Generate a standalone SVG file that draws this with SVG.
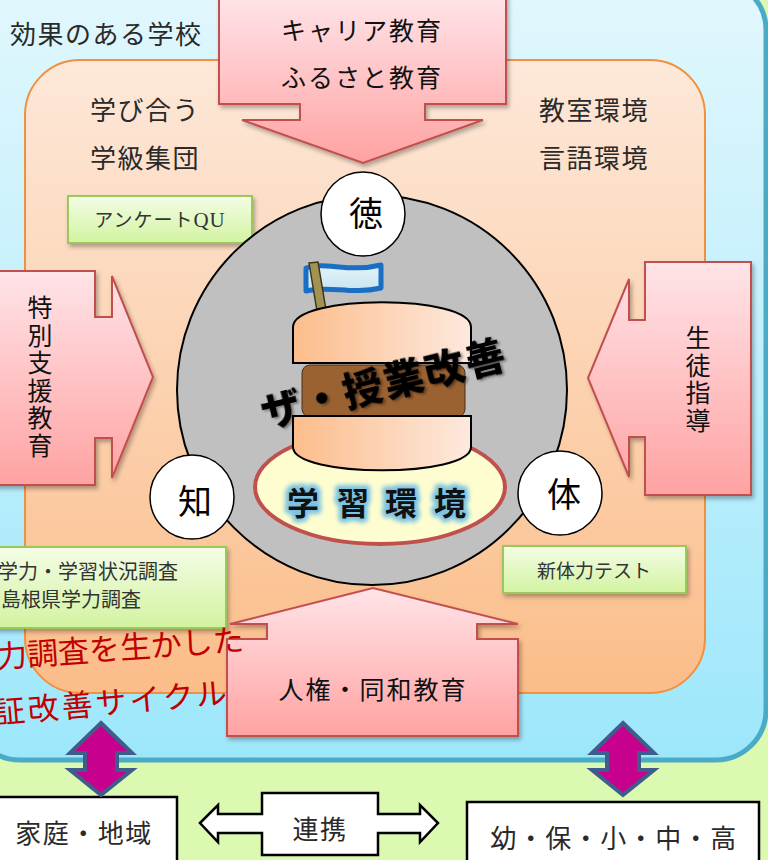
<svg xmlns="http://www.w3.org/2000/svg" width="768" height="860" viewBox="0 0 768 860">
  <defs>
    <linearGradient id="gBlue" x1="0" y1="0" x2="0" y2="1">
      <stop offset="0" stop-color="#e2f7fd"/>
      <stop offset="1" stop-color="#9de7fb"/>
    </linearGradient>
    <linearGradient id="gOrange" x1="0" y1="0" x2="0" y2="1">
      <stop offset="0" stop-color="#fde8d9"/>
      <stop offset="1" stop-color="#fbbd89"/>
    </linearGradient>
    <linearGradient id="gPink" x1="0" y1="0" x2="0" y2="1">
      <stop offset="0" stop-color="#ffe4e8"/>
      <stop offset="1" stop-color="#ffa2a2"/>
    </linearGradient>
    <linearGradient id="gGreen" x1="0" y1="0" x2="0" y2="1">
      <stop offset="0" stop-color="#f4fde6"/>
      <stop offset="1" stop-color="#d2f3a0"/>
    </linearGradient>
    <linearGradient id="gBun" x1="0" y1="0" x2="1" y2="0">
      <stop offset="0" stop-color="#fcbd8b"/>
      <stop offset="1" stop-color="#fde9de"/>
    </linearGradient>
    <linearGradient id="gFlag" x1="0" y1="0" x2="0" y2="1">
      <stop offset="0" stop-color="#e4f3f8"/>
      <stop offset="1" stop-color="#c8e4f0"/>
    </linearGradient>
    <filter id="shadow" x="-10%" y="-10%" width="125%" height="130%">
      <feDropShadow dx="2" dy="3" stdDeviation="2" flood-color="#000" flood-opacity="0.3"/>
    </filter>
    <filter id="txtShadow" x="-10%" y="-20%" width="125%" height="150%">
      <feDropShadow dx="2" dy="2" stdDeviation="1.2" flood-color="#000" flood-opacity="0.35"/>
    </filter>
    <filter id="glow" x="-20%" y="-30%" width="140%" height="160%">
      <feGaussianBlur stdDeviation="2"/>
    </filter>
    <style>
      .t { font-family: "Noto Sans CJK JP", "Noto Sans", sans-serif; }
      .lbl { font-size: 26px; fill: #2a2a2a; letter-spacing: 1.5px; }
      .big { font-size: 25px; fill: #111; letter-spacing: 2px; }
      .vert { font-size: 25px; fill: #111; writing-mode: vertical-rl; text-orientation: upright; letter-spacing: 2.5px; }
      .box { font-size: 19px; fill: #333; }
      .arrow { fill: url(#gPink); stroke: #c0504d; stroke-width: 2; stroke-linejoin: miter; filter: url(#shadow); }
      .gbox { fill: url(#gGreen); stroke: #9bc85a; stroke-width: 2; filter: url(#shadow); }
      .ring { fill: #fff; stroke: #000; stroke-width: 1.5; }
      .ringtxt { font-size: 34px; fill: #000; text-anchor: middle; }
      .dbl { fill: #c8008e; stroke: #3e5d8c; stroke-width: 4; stroke-linejoin: miter; }
      .wbox { fill: #fff; stroke: #000; stroke-width: 2.5; }
      .red { font-size: 31px; fill: #c00000; }
    </style>
  </defs>

  <!-- page background -->
  <rect x="0" y="0" width="768" height="860" fill="#dbf9b0"/>

  <!-- school frame -->
  <g id="school">
    <rect x="-30" y="-20" width="796" height="780" rx="50" fill="url(#gBlue)" stroke="#4aabc6" stroke-width="5"/>
    <text class="t lbl" x="10" y="44">効果のある学校</text>
  </g>

  <!-- classroom frame -->
  <g id="classroom">
    <rect x="25" y="60" width="680" height="633" rx="55" fill="url(#gOrange)" stroke="#f09040" stroke-width="2"/>
    <text class="t lbl" x="90" y="120">学び合う</text>
    <text class="t lbl" x="90" y="168">学級集団</text>
    <text class="t lbl" x="539" y="120">教室環境</text>
    <text class="t lbl" x="539" y="168">言語環境</text>
  </g>

  <!-- survey boxes -->
  <g id="box-qu">
    <rect class="gbox" x="68" y="196" width="184" height="47"/>
    <text class="t box" x="160" y="227" text-anchor="middle" letter-spacing="1">アンケート<tspan font-family="'Liberation Serif', serif" font-size="21">QU</tspan></text>
  </g>
  <g id="box-survey">
    <rect class="gbox" x="-5" y="547" width="231" height="81"/>
    <text class="t box" x="-2" y="579" style="font-size:20px">学力・学習状況調査</text>
    <text class="t box" x="1" y="607" style="font-size:20px">島根県学力調査</text>
  </g>
  <g id="box-fitness">
    <rect class="gbox" x="503" y="546" width="183" height="47"/>
    <text class="t box" x="594" y="578" text-anchor="middle">新体力テスト</text>
  </g>

  <!-- core: lesson improvement burger -->
  <g id="core">
    <circle cx="372" cy="390" r="195" fill="#c0c0c0" stroke="#000" stroke-width="2"/>
    <ellipse cx="380" cy="487" rx="125" ry="57" fill="#fefdd0" stroke="#c0504d" stroke-width="4"/>
    <g class="t" font-size="32" font-weight="700" text-anchor="middle">
      <text x="303 353 401 450" y="515" fill="none" stroke="#7cc3e2" stroke-width="8" stroke-linejoin="round" filter="url(#glow)">学習環境</text>
      <text x="303 353 401 450" y="515" fill="#111">学習環境</text>
    </g>
    <!-- flag -->
    <path d="M306,268 C325,261 348,273 381,265 L381,288 C350,295 330,285 306,291 Z" fill="url(#gFlag)" stroke="#1a6fc4" stroke-width="5" stroke-linejoin="round"/>
    <path d="M309,263 L318,262 L326,310 L317,311 Z" fill="#a39352" stroke="#3c3520" stroke-width="1.5"/>
    <!-- bun, patty, bun -->
    <path d="M293,363 V327 C293,294 471,294 471,327 V363 Z" fill="url(#gBun)" stroke="#000" stroke-width="2"/>
    <rect x="302" y="365" width="163" height="52" rx="8" fill="#9a6131" stroke="#4a3018" stroke-width="1"/>
    <path d="M293,416 H471 V447 C471,478 293,478 293,447 Z" fill="url(#gBun)" stroke="#000" stroke-width="2"/>
    <text class="t" x="384" y="398" font-size="40" font-weight="900" fill="#000" text-anchor="middle" letter-spacing="2" transform="rotate(-14 384 383)" filter="url(#txtShadow)">ザ・授業改善</text>
  </g>

  <!-- influence arrows -->
  <g id="arrow-career">
    <path class="arrow" d="M219,-5 H506 V104 H425 V120 H483 L363,163 L242,120 H300 V104 H219 Z"/>
    <text class="t big" x="362" y="40" text-anchor="middle">キャリア教育</text>
    <text class="t big" x="362" y="87" text-anchor="middle">ふるさと教育</text>
  </g>
  <g id="arrow-special">
    <path class="arrow" d="M-5,271 H95 V317 H112 V276 L153,377 L112,478 V438 H95 V485 H-5 Z"/>
    <text class="t vert" x="40" y="295">特別支援教育</text>
  </g>
  <g id="arrow-guidance">
    <path class="arrow" d="M751,262 H645 V320 H629 V279 L588,378 L629,477 V437 H645 V495 H751 Z"/>
    <text class="t vert" x="698" y="325">生徒指導</text>
  </g>
  <g id="arrow-rights">
    <path class="arrow" d="M227,736 V639 H267 V624 H230 L373,588 L518,624 H477 V639 H518 V736 Z"/>
    <text class="t big" x="373" y="699" text-anchor="middle">人権・同和教育</text>
  </g>

  <!-- three pillars -->
  <g id="toku">
    <circle class="ring" cx="363" cy="214" r="42"/>
    <text class="t ringtxt" x="366" y="226">徳</text>
  </g>
  <g id="chi">
    <circle class="ring" cx="192" cy="497" r="42"/>
    <text class="t ringtxt" x="195" y="514">知</text>
  </g>
  <g id="tai">
    <circle class="ring" cx="560" cy="493" r="42"/>
    <text class="t ringtxt" x="564" y="507">体</text>
  </g>

  <!-- cycle caption -->
  <g id="caption">
    <text class="t red" x="-3" y="668" transform="rotate(-4 -3 668)">力調査を生かした</text>
    <text class="t red" x="-5" y="724" letter-spacing="3" transform="rotate(-5 -5 724)">証改善サイクル</text>
  </g>

  <!-- partners -->
  <g id="home">
    <rect class="wbox" x="-3" y="797" width="180" height="70"/>
    <text class="t lbl" x="84" y="843" text-anchor="middle" fill="#222">家庭・地域</text>
  </g>
  <g id="link">
    <path class="wbox" d="M200,823 L218,805 V814 H262 V793 H378 V814 H420 V805 L438,823 L420,842 V833 H378 V855 H262 V833 H218 V842 Z"/>
    <text class="t lbl" x="320" y="839" text-anchor="middle" fill="#222">連携</text>
  </g>
  <g id="schools">
    <rect class="wbox" x="467" y="802" width="292" height="65"/>
    <text class="t lbl" x="614" y="848" text-anchor="middle" fill="#222">幼・保・小・中・高</text>
  </g>

  <!-- connectors -->
  <g id="connectors">
    <path class="dbl" d="M101,723 L132,753 H117 V770 H132 L101,795 L70,770 H85 V753 H70 Z"/>
    <path class="dbl" d="M623,723 L654,753 H639 V770 H654 L623,795 L592,770 H607 V753 H592 Z"/>
  </g>
</svg>
